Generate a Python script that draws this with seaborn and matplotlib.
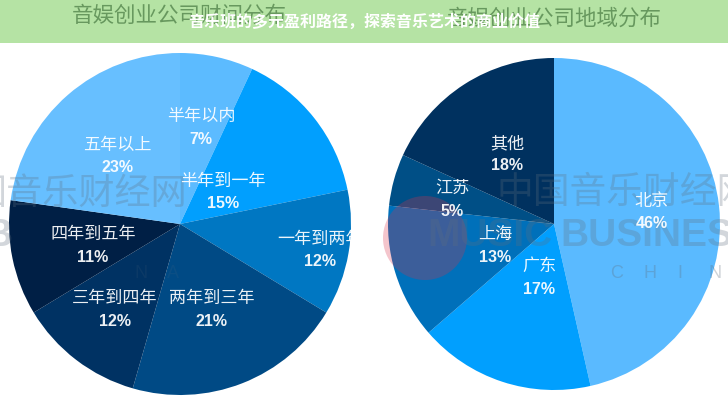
import matplotlib
matplotlib.use("Agg")
import matplotlib.pyplot as plt
from matplotlib.patches import Circle, Rectangle
import seaborn as sns

sns.set_theme(style="white")
plt.rcParams['font.family'] = ['Noto Sans CJK SC', 'DejaVu Sans']

# time distribution, clockwise from the top
time_labels = ["半年以内", "半年到一年", "一年到两年", "两年到三年", "三年到四年", "四年到五年", "五年以上"]
time_values = [7, 15, 12, 21, 12, 11, 23]
time_colors = ["#5cbbff", "#019ffe", "#0077c2", "#004a85", "#003263", "#001f45", "#67bfff"]
time_text_pos = [(201, 115), (223, 180), (320, 238), (212, 297), (115, 297), (93, 233), (117, 144)]

# region distribution, clockwise from the top
region_labels = ["北京", "广东", "上海", "江苏", "其他"]
region_values = [46, 17, 13, 5, 18]
region_colors = ["#5abaff", "#019ffe", "#0070ba", "#004f86", "#00315f"]
region_text_pos = [(652, 200), (539, 265), (495, 233), (452, 187), (507, 142)]

page_title = "音乐班的多元盈利路径，探索音乐艺术的商业价值"
left_heading = "音娱创业公司财间分布"
right_heading = "音娱创业公司地域分布"

W, H = 728, 400
fig = plt.figure(figsize=(W / 100, H / 100), dpi=100, facecolor="white")


def draw_pie(values, colors, cx, cy, r):
    ax = fig.add_axes([(cx - r) / W, 1 - (cy + r) / H, 2 * r / W, 2 * r / H])
    ax.pie(values, colors=sns.color_palette(colors), startangle=90, counterclock=False,
           radius=1.0, wedgeprops={"linewidth": 0})
    ax.set_xlim(-1, 1)
    ax.set_ylim(-1, 1)
    ax.axis("off")


draw_pie(time_values, time_colors, 180, 224, 171)
draw_pie(region_values, region_colors, 554, 224, 166)

# overlay in pixel coordinates for banner, labels and watermark
top = fig.add_axes([0, 0, 1, 1], facecolor="none")
top.set_xlim(0, W)
top.set_ylim(H, 0)
top.axis("off")

clip_right = Rectangle((0, 0), 351, H, transform=top.transData)


def draw_labels(labels, values, positions):
    for name, val, (x, y) in zip(labels, values, positions):
        t1 = top.text(x, y + 1, name, color="white", fontsize=12.3, fontweight="medium",
                      ha="center", va="center", alpha=0.93, zorder=6)
        top.text(x, y + 24, f"{val}%", color="white", fontsize=11.5, fontweight="bold",
                 family=["Liberation Sans", "DejaVu Sans"], ha="center", va="center", alpha=0.93, zorder=6)
        if x < 364:
            t1.set_clip_path(clip_right)
            t1.set_clip_on(True)


draw_labels(time_labels, time_values, time_text_pos)
draw_labels(region_labels, region_values, region_text_pos)

# watermark
top.add_patch(Circle((425, 238), 42, facecolor="#d8304a", alpha=0.28, linewidth=0, zorder=3))
wm = "#5f6f7f"
top.text(188, 194, "国音乐财经网", color=wm, alpha=0.28, fontsize=26, ha="right", va="center", zorder=4)
top.text(497, 192, "中国音乐财经网", color=wm, alpha=0.28, fontsize=26.5, ha="left", va="center", zorder=4)
top.text(-16, 236, "B", color=wm, alpha=0.28, fontsize=28, fontweight="bold",
         family=["Liberation Sans"], ha="left", va="center", zorder=4)
top.text(427, 236, "MUSIC", color=wm, alpha=0.28, fontsize=28, fontweight="bold",
         family=["Liberation Sans"], ha="left", va="center", zorder=4)
top.text(560, 236, "BUSINESS", color=wm, alpha=0.28, fontsize=28, fontweight="bold",
         family=["Liberation Sans"], ha="left", va="center", zorder=4)
for letter, x in zip("CHIN", [617, 650, 680, 715]):
    top.text(x, 273, letter, color=wm, alpha=0.3, fontsize=13, family=["Liberation Sans"],
             ha="center", va="center", zorder=4)
for letter, x in zip("NA", [141, 173]):
    top.text(x, 273, letter, color=wm, alpha=0.12, fontsize=13, family=["Liberation Sans"],
             ha="center", va="center", zorder=4)

# banner and titles
top.add_patch(Rectangle((0, 0), W, 43, facecolor="#b5e3a4", linewidth=0, zorder=7))
top.text(179, 16, left_heading, color="#67985e", fontsize=15.5, fontweight="medium",
         ha="center", va="center", zorder=8)
top.text(554, 19, right_heading, color="#67985e", fontsize=15.5, fontweight="medium",
         ha="center", va="center", zorder=8)
top.text(364, 22, page_title, color="white", fontsize=11.5, fontweight="bold",
         ha="center", va="center", zorder=9)

fig.savefig("out.png", dpi=100)
